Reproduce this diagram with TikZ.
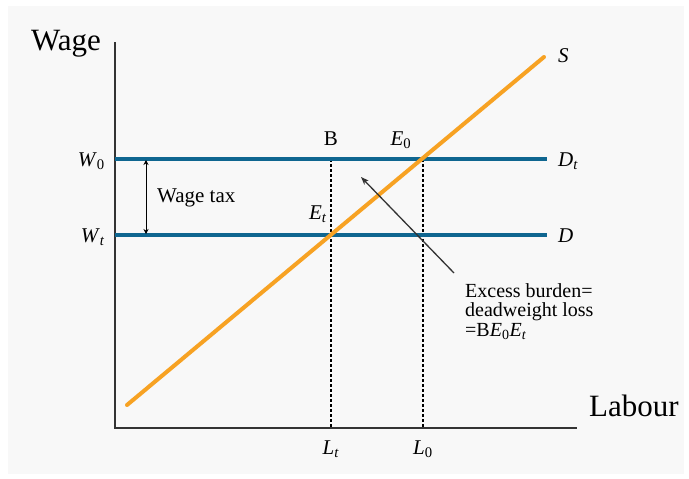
\documentclass[tikz,border=0pt]{standalone}
\usepackage{fontspec}
\setmainfont{Liberation Serif}
\usetikzlibrary{arrows.meta}
\definecolor{bgc}{HTML}{F8F8F8}
\definecolor{dblue}{HTML}{0F6690}
\definecolor{sorange}{HTML}{F7A223}
\definecolor{axisc}{HTML}{333333}
\tikzset{
  axisline/.style={line width=2pt, draw=axisc},
  demand/.style={line width=4.2pt, draw=dblue},
  supply/.style={line width=4pt, draw=sorange, line cap=round},
  guide/.style={line width=1.4pt, draw=black, dash pattern=on 3pt off 2pt},
  lbl/.style={font=\fontsize{21}{21}\selectfont, inner sep=0pt},
  big/.style={font=\fontsize{31}{31}\selectfont, inner sep=0pt},
}
\begin{document}
\begin{tikzpicture}[x=1pt,y=-1pt]
\useasboundingbox (0,0) rectangle (689,479);
\fill[bgc] (8,6) rectangle (684,474);
% coordinates
\coordinate (O) at (115,428);
\coordinate (Ytop) at (115,42);
\coordinate (Xend) at (577,428);
\coordinate (W0l) at (115,159);
\coordinate (W0r) at (547,159);
\coordinate (Wtl) at (115,235);
\coordinate (Wtr) at (547,235);
\coordinate (Sa) at (127,405);
\coordinate (Sb) at (544,57);
\coordinate (E0) at (423,159);
\coordinate (Et) at (331,235);
\coordinate (L0) at (423,428);
\coordinate (Lt) at (331,428);
\coordinate (TaxTop) at (146,160);
\coordinate (TaxBot) at (146,234);
\coordinate (PtrTail) at (454,273);
\coordinate (PtrTip) at (361,177);
% axes
\draw[axisline] (Ytop) -- (O) -- (Xend);
% guides
\draw[guide] (E0) -- (L0);
\draw[guide] (Et |- W0l) -- (Lt);
% demand lines
\draw[demand] (W0l) -- (W0r);
\draw[demand] (Wtl) -- (Wtr);
% supply
\draw[supply] (Sa) -- (Sb);
% wage tax arrow
\draw[line width=1pt, {Stealth[length=5pt,width=5pt]}-{Stealth[length=5pt,width=5pt]}] (TaxTop) -- (TaxBot);
% pointer
\draw[line width=1.3pt, draw=axisc, -{Stealth[length=8pt,width=6pt]}] (PtrTail) -- (PtrTip);
% labels
\node[big, anchor=base west] (wage) at (31,50) {Wage};
\node[big, anchor=base west] (labour) at (589,416) {Labour};
\node[lbl, anchor=base east] (w0) at (105,166) {\textit{W}\textsubscript{0}};
\node[lbl, anchor=base east] (wt) at (105,242) {\textit{W}\textsubscript{\textit{t}}};
\node[lbl, anchor=base] (b) at (331,145) {B};
\node[lbl, anchor=base] (e0) at (401,145) {\textit{E}\textsubscript{0}};
\node[lbl, anchor=base] (et) at (318,219) {\textit{E}\textsubscript{\textit{t}}};
\node[lbl, anchor=base west] (dt) at (558,166) {\textit{D}\textsubscript{\textit{t}}};
\node[lbl, anchor=base west] (d) at (558,242) {\textit{D}};
\node[lbl, anchor=base west] (s) at (558,63) {\textit{S}};
\node[lbl, anchor=base west] (tax) at (157,202) {Wage tax};
\node[lbl, anchor=base] (lt) at (331,454) {\textit{L}\textsubscript{\textit{t}}};
\node[lbl, anchor=base] (l0) at (423,454) {\textit{L}\textsubscript{0}};
\node[lbl, anchor=base west, align=left, font=\fontsize{20}{19.5}\selectfont] (excess) at (465,336)
  {Excess burden=\\deadweight loss\\=B\textit{E}\textsubscript{0}\textit{E}\textsubscript{\textit{t}}};
\end{tikzpicture}
\end{document}
